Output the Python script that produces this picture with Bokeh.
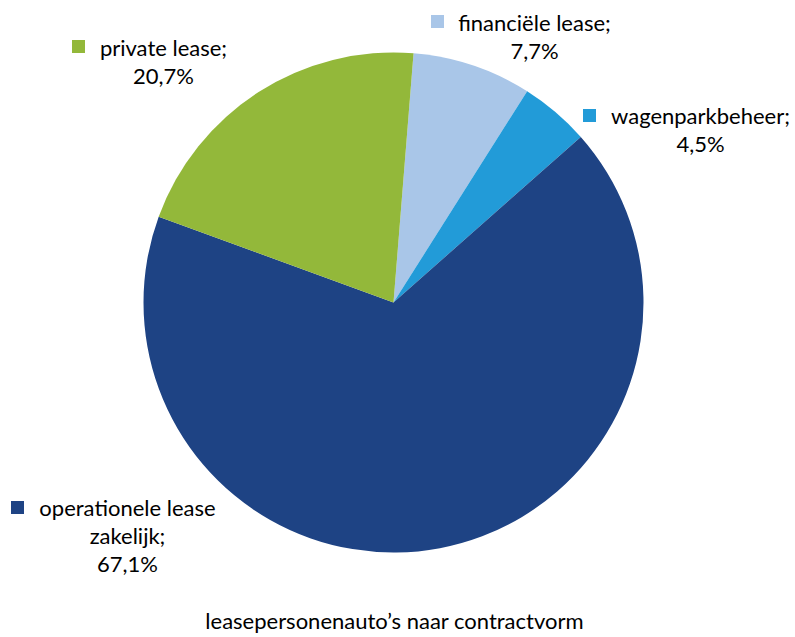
from bokeh.plotting import figure
from bokeh.models import Range1d, ColumnDataSource
from bokeh.core.properties import value
from bokeh.embed import file_html
from bokeh.resources import INLINE

# ---- data ----
categories = ["financiële lease", "wagenparkbeheer", "operationele lease zakelijk", "private lease"]
shares = [7.7, 4.5, 67.1, 20.7]
colors = ["#A9C6E8", "#229BD8", "#1E4384", "#93B83A"]
label_lines = [["financiële lease;"], ["wagenparkbeheer;"], ["operationele lease", "zakelijk;"], ["private lease;"]]
title_text = "leasepersonenauto\u2019s  naar contractvorm"

# ---- layout (pixels, measured from top-left) ----
W, H = 795, 637
cx, cy, R = 393, 302, 250
first_slice_offset = 4.6  # degrees clockwise from 12 o'clock
FONT = "Lato"
FS = "22px"
key_pos = [(437, 21), (589, 115), (17, 507), (78, 46)]
text_pos = [(534, 22), (700, 115), (127, 507), (163, 47)]
LINE = 28

p = figure(width=W, height=H, output_backend="svg", toolbar_location=None,
           x_range=Range1d(0, W), y_range=Range1d(0, H), min_border=0)
p.axis.visible = False
p.grid.visible = False
p.outline_line_color = None
p.background_fill_color = "white"
p.border_fill_color = "white"

def fy(y):
    return H - y

total = sum(shares)
starts, ends = [], []
cum = 0.0
for s in shares:
    a0 = 90 - first_slice_offset - cum / total * 360
    cum += s
    a1 = 90 - first_slice_offset - cum / total * 360
    starts.append(a0)
    ends.append(a1)

src = ColumnDataSource(dict(x=[cx] * len(shares), y=[fy(cy)] * len(shares),
                            start=starts, end=ends, color=colors))
p.wedge(x="x", y="y", radius=R, start_angle="start", end_angle="end",
        start_angle_units="deg", end_angle_units="deg", direction="clock",
        fill_color="color", line_color=None, source=src)

# labels
kx, ky, kc = [], [], []
tx, ty, tt = [], [], []
for i, cat in enumerate(categories):
    kx.append(key_pos[i][0]); ky.append(fy(key_pos[i][1])); kc.append(colors[i])
    lines = label_lines[i] + [f"{shares[i]:.1f}%".replace(".", ",")]
    for j, ln in enumerate(lines):
        tx.append(text_pos[i][0]); ty.append(fy(text_pos[i][1] + j * LINE)); tt.append(ln)

p.scatter(x=kx, y=ky, marker="square", size=13, fill_color=kc, line_color=None)
p.text(x=tx, y=ty, text=tt, text_font=value(FONT), text_font_size=FS,
       text_align="center", text_baseline="middle", text_color="#000000")
p.text(x=[397], y=[fy(620)], text=[title_text], text_font=value(FONT), text_font_size=FS,
       text_align="center", text_baseline="middle", text_color="#000000")

open("out.html", "w").write(file_html(p, INLINE))
